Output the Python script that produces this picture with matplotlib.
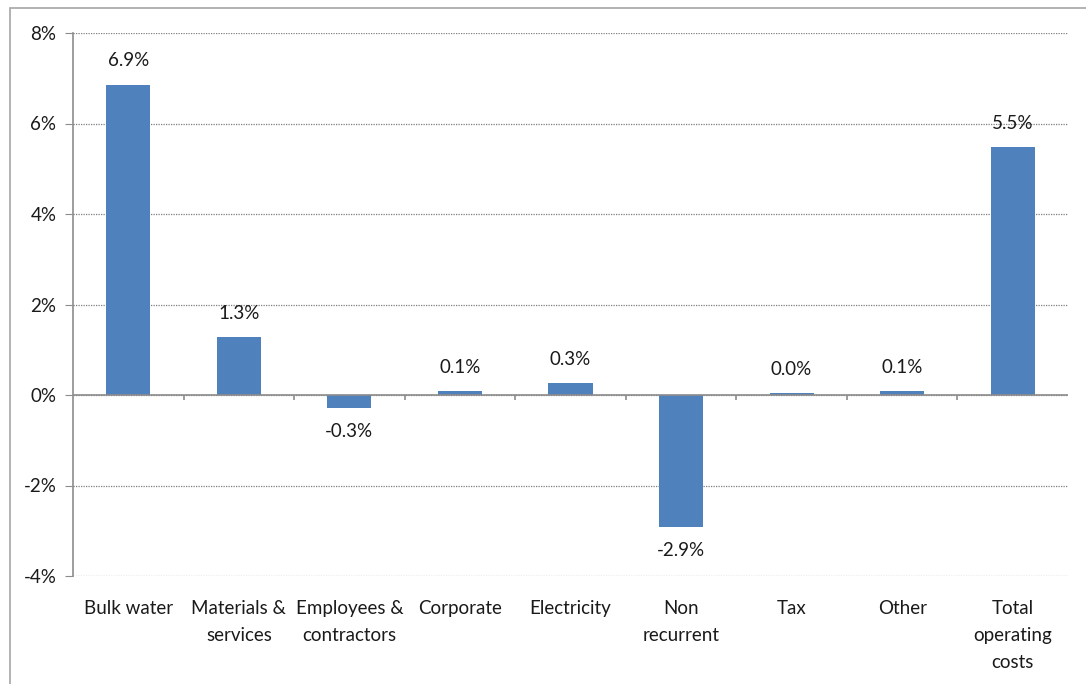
import numpy as np
import matplotlib.pyplot as plt
from matplotlib.patches import Rectangle
from matplotlib.ticker import FuncFormatter

categories = ["Bulk water", "Materials &\nservices", "Employees &\ncontractors",
              "Corporate", "Electricity", "Non\nrecurrent", "Tax", "Other",
              "Total\noperating\ncosts"]
values = [6.86, 1.28, -0.29, 0.09, 0.26, -2.92, 0.04, 0.09, 5.48]
yticks = [-4, -2, 0, 2, 4, 6, 8]

plt.rcParams['font.family'] = ['Lato', 'DejaVu Sans']
fs = 13.5

fig = plt.figure(figsize=(10.86, 6.84), dpi=100)
fig.patches.append(Rectangle((10/1086, -0.1), 1.2, 1.1 - 8/684, transform=fig.transFigure,
                             fill=False, edgecolor='#a6a6a6', lw=1.2))
ax = fig.add_axes([73/1086, (684-576)/684, (1068-73)/1086, (576-33)/684])

x = np.arange(len(categories))
ax.bar(x, values, width=0.4, color='#4f81bd', zorder=3)

for xi, v in zip(x, values):
    off = 11 if v >= 0 else -11
    ax.annotate(f"{v:.1f}%", (xi, v), xytext=(0, off), textcoords='offset points',
                ha='center', va='bottom' if v >= 0 else 'top', fontsize=fs, color='#1a1a1a')

ax.set_xlim(-0.5, len(categories) - 0.5)
ax.set_ylim(-4, 8)
ax.set_yticks(yticks)
ax.yaxis.set_major_formatter(FuncFormatter(lambda v, p: f"{v:.0f}%"))
ax.grid(axis='y', linestyle=(0, (1, 1)), color='#7f7f7f', lw=0.9, zorder=0)
ax.axhline(0, color='#8c8c8c', lw=1.2, zorder=4)
ax.vlines(x[:-1] + 0.5, -0.11, 0, color='#8c8c8c', lw=1.2, zorder=4)

ax.set_xticks(x)
ax.set_xticklabels(categories, fontsize=fs, linespacing=1.72, color='#1a1a1a')
ax.tick_params(axis='x', length=0, pad=17)
ax.tick_params(axis='y', direction='out', length=6, color='#8c8c8c', labelsize=fs,
               labelcolor='#1a1a1a', pad=6)

for s in ['top', 'right', 'bottom']:
    ax.spines[s].set_visible(False)
ax.spines['left'].set_color('#8c8c8c')
ax.spines['left'].set_linewidth(1.2)

fig.savefig('out.png', dpi=100)
